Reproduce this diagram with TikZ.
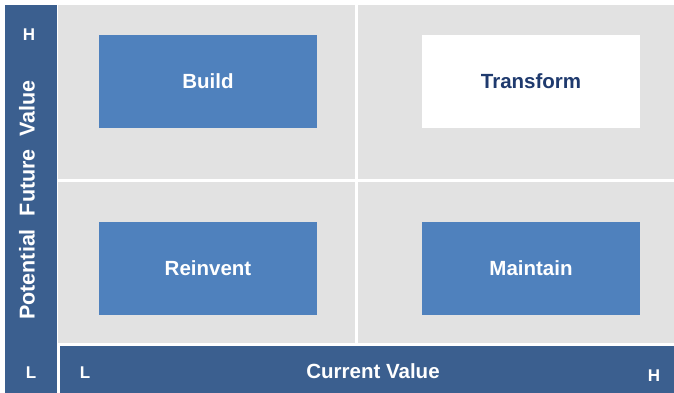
\documentclass[tikz,border=0pt]{standalone}
\usepackage{fontspec}
\setmainfont{Liberation Sans}
\definecolor{barblue}{HTML}{3B5F8F}
\definecolor{boxblue}{HTML}{4F81BD}
\definecolor{cellgray}{HTML}{E2E2E2}
\definecolor{navy}{HTML}{1F3A6E}
\begin{document}
\begin{tikzpicture}[x=1pt,y=-1pt,
  quad/.style={fill=boxblue, draw=none, minimum width=218pt, minimum height=93pt, inner sep=0pt, text=white, font=\fontsize{20.5}{22}\selectfont\bfseries},
  lab/.style={text=white, font=\fontsize{20.5}{22}\selectfont\bfseries, inner sep=0pt},
  hl/.style={text=white, font=\fontsize{17}{18}\selectfont\bfseries, inner sep=0pt}]
\useasboundingbox (0,0) rectangle (674,393);
\fill[white] (0,0) rectangle (674,393);
% grid
\fill[cellgray] (58,5) rectangle (674,343);
\draw[white, line width=2.4pt] (356.5,5) -- (356.5,343);
\draw[white, line width=2.4pt] (58,180.5) -- (674,180.5);
% bars
\fill[barblue] (5,5) rectangle (57,393);
\fill[barblue] (59.5,346) rectangle (674,393);
% boxes
\node[quad] (build) at (208,81.5) {Build};
\node[quad, fill=white, text=navy] (transform) at (531,81.5) {Transform};
\node[quad] (reinvent) at (208,268.5) {Reinvent};
\node[quad] (maintain) at (531,268.5) {Maintain};
% axis labels
\node[lab, rotate=90, font=\fontsize{21.5}{22}\selectfont\bfseries] (yaxis) at (27,200) {Potential\hspace{0.6em}Future\hspace{0.6em}Value};
\node[lab] (xaxis) at (373,371) {Current Value};
\node[hl] (yh) at (29,35) {H};
\node[hl] (yl) at (31,373) {L};
\node[hl] (xl) at (85,373) {L};
\node[hl] (xh) at (654,376) {H};
\end{tikzpicture}
\end{document}
